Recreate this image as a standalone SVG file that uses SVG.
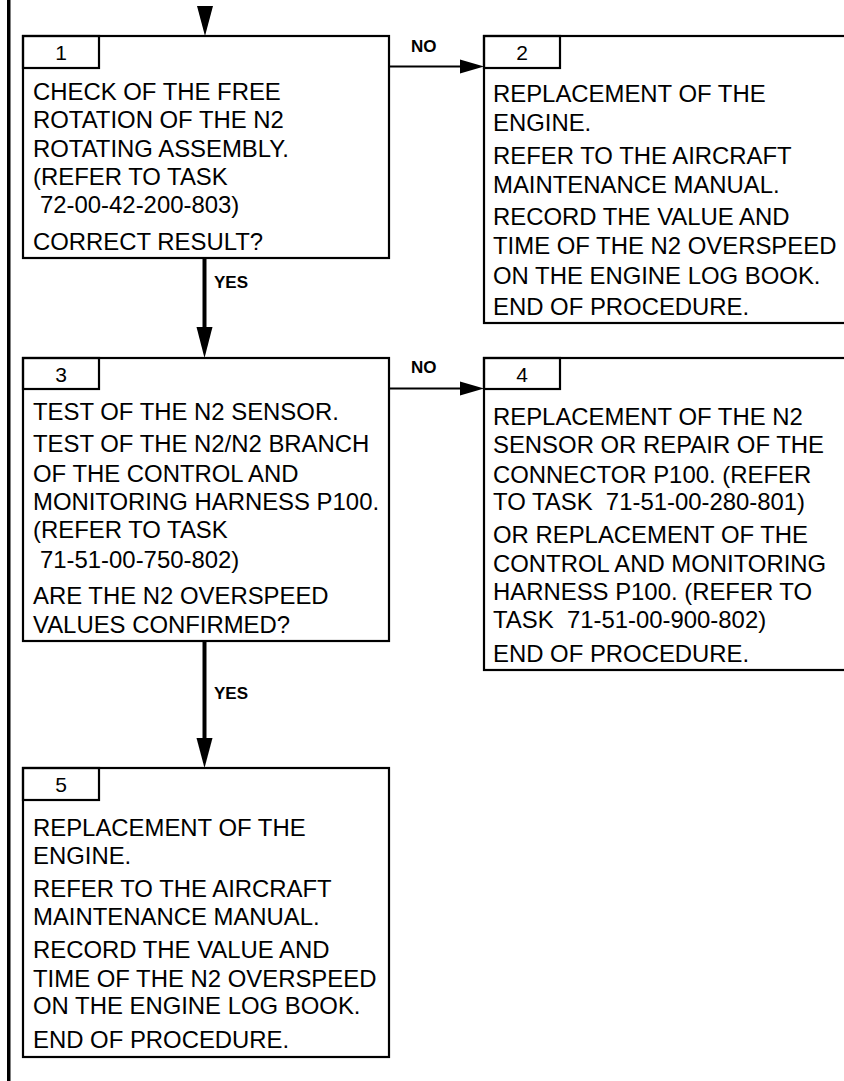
<svg xmlns="http://www.w3.org/2000/svg" width="844" height="1081" viewBox="0 0 844 1081">
<style>
.box{fill:#fff;stroke:#000;stroke-width:2.2}
.tab{fill:none;stroke:#000;stroke-width:2.2}
.t{font-family:"Liberation Sans",Arial,sans-serif;font-size:23.9px;fill:#000}
.n{font-family:"Liberation Sans",Arial,sans-serif;font-size:21px;fill:#000;text-anchor:middle}
.lb{font-family:"Liberation Sans",Arial,sans-serif;font-size:17px;font-weight:bold;fill:#000}
.thick{stroke:#000;stroke-width:4;fill:none}
.thin{stroke:#000;stroke-width:2;fill:none}
.ah{fill:#000}
</style>
<rect x="7" y="0" width="3.5" height="1081" fill="#000"/>
<g id="connectors">
<polygon class="ah" points="197,6 213,6 205,36"/>
<line class="thick" x1="204.5" y1="258" x2="204.5" y2="328"/>
<polygon class="ah" points="196.5,327 212.5,327 204.5,358"/>
<text class="lb" x="214" y="288">YES</text>
<line class="thick" x1="204.5" y1="641" x2="204.5" y2="739"/>
<polygon class="ah" points="196.5,738 212.5,738 204.5,768"/>
<text class="lb" x="214" y="699">YES</text>
<line class="thin" x1="389" y1="66.5" x2="461" y2="66.5"/>
<polygon class="ah" points="460,59.5 484,66.5 460,73.5"/>
<text class="lb" x="411" y="52">NO</text>
<line class="thin" x1="389" y1="388.5" x2="461" y2="388.5"/>
<polygon class="ah" points="460,381.5 484,388.5 460,395.5"/>
<text class="lb" x="411" y="373">NO</text>
</g>
<g id="node1">
<rect class="box" x="23" y="36" width="366" height="222"/>
<rect class="tab" x="23" y="36" width="76" height="32"/>
<text class="n" x="61" y="60">1</text>
<text class="t" x="33" y="100">CHECK OF THE FREE</text>
<text class="t" x="33" y="128.3">ROTATION OF THE N2</text>
<text class="t" x="33" y="156.7">ROTATING ASSEMBLY.</text>
<text class="t" x="33" y="185">(REFER TO TASK</text>
<text class="t" x="40" y="213.3">72-00-42-200-803)</text>
<text class="t" x="33" y="250">CORRECT RESULT?</text>
</g>
<g id="node2">
<rect class="box" x="484" y="36" width="380" height="287"/>
<rect class="tab" x="484" y="36" width="76" height="32"/>
<text class="n" x="522" y="60">2</text>
<text class="t" x="493" y="101.7">REPLACEMENT OF THE</text>
<text class="t" x="493" y="131">ENGINE.</text>
<text class="t" x="493" y="164.3">REFER TO THE AIRCRAFT</text>
<text class="t" x="493" y="193.3">MAINTENANCE MANUAL.</text>
<text class="t" x="493" y="225">RECORD THE VALUE AND</text>
<text class="t" x="493" y="254.3">TIME OF THE N2 OVERSPEED</text>
<text class="t" x="493" y="284">ON THE ENGINE LOG BOOK.</text>
<text class="t" x="493" y="315">END OF PROCEDURE.</text>
</g>
<g id="node3">
<rect class="box" x="23" y="358" width="366" height="283"/>
<rect class="tab" x="23" y="358" width="76" height="31"/>
<text class="n" x="61" y="381.7">3</text>
<text class="t" x="33" y="420">TEST OF THE N2 SENSOR.</text>
<text class="t" x="33" y="451.7">TEST OF THE N2/N2 BRANCH</text>
<text class="t" x="33" y="481.7">OF THE CONTROL AND</text>
<text class="t" x="33" y="510">MONITORING HARNESS P100.</text>
<text class="t" x="33" y="538.3">(REFER TO TASK</text>
<text class="t" x="40" y="568.3">71-51-00-750-802)</text>
<text class="t" x="33" y="604">ARE THE N2 OVERSPEED</text>
<text class="t" x="33" y="633.3">VALUES CONFIRMED?</text>
</g>
<g id="node4">
<rect class="box" x="484" y="358" width="380" height="312"/>
<rect class="tab" x="484" y="358" width="76" height="31"/>
<text class="n" x="522" y="381.7">4</text>
<text class="t" x="493" y="425">REPLACEMENT OF THE N2</text>
<text class="t" x="493" y="453.3">SENSOR OR REPAIR OF THE</text>
<text class="t" x="493" y="482.7">CONNECTOR P100. (REFER</text>
<text class="t" x="493" y="510" xml:space="preserve">TO TASK  71-51-00-280-801)</text>
<text class="t" x="493" y="543.3">OR REPLACEMENT OF THE</text>
<text class="t" x="493" y="571.7">CONTROL AND MONITORING</text>
<text class="t" x="493" y="600">HARNESS P100. (REFER TO</text>
<text class="t" x="493" y="628.3" xml:space="preserve">TASK  71-51-00-900-802)</text>
<text class="t" x="493" y="661.7">END OF PROCEDURE.</text>
</g>
<g id="node5">
<rect class="box" x="23" y="768" width="366" height="289"/>
<rect class="tab" x="23" y="768" width="76" height="32"/>
<text class="n" x="61" y="792.3">5</text>
<text class="t" x="33" y="835.7">REPLACEMENT OF THE</text>
<text class="t" x="33" y="864">ENGINE.</text>
<text class="t" x="33" y="896.7">REFER TO THE AIRCRAFT</text>
<text class="t" x="33" y="925">MAINTENANCE MANUAL.</text>
<text class="t" x="33" y="957.7">RECORD THE VALUE AND</text>
<text class="t" x="33" y="986.7">TIME OF THE N2 OVERSPEED</text>
<text class="t" x="33" y="1014.3">ON THE ENGINE LOG BOOK.</text>
<text class="t" x="33" y="1048.3">END OF PROCEDURE.</text>
</g>
</svg>
